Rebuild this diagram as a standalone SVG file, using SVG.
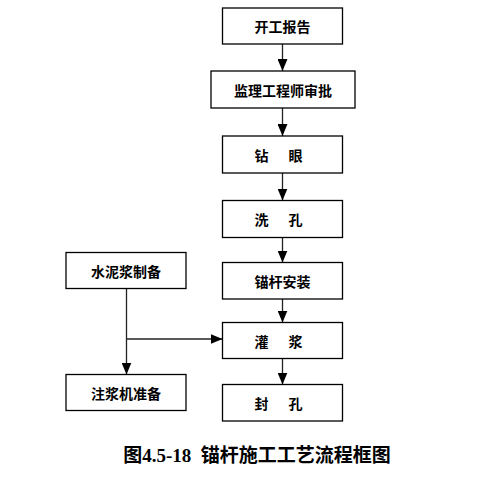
<svg xmlns="http://www.w3.org/2000/svg" width="497" height="480" viewBox="0 0 497 480">
<style>
.box{fill:#fff;stroke:#000;stroke-width:1.3}
.lbl{font-family:"Noto Sans CJK SC","Noto Sans CJK JP",sans-serif;font-size:14px;font-weight:bold;fill:#000;text-anchor:middle;dominant-baseline:central}
.ln{fill:none;stroke:#222;stroke-width:1.3}
.cap{font-family:"Liberation Serif","Noto Sans CJK SC",serif;font-size:19px;font-weight:bold;fill:#000;text-anchor:middle}
</style>
<defs>
<marker id="ah" viewBox="0 0 12 10" refX="12" refY="5" markerWidth="12" markerHeight="10" markerUnits="userSpaceOnUse" orient="auto">
<path d="M0,0 L12,5 L0,10 Z" fill="#000"/>
</marker>
</defs>
<rect width="497" height="480" fill="#fff"/>
<g id="connectors">
<line class="ln" x1="282.5" y1="44" x2="282.5" y2="71" marker-end="url(#ah)"/>
<line class="ln" x1="282.5" y1="108" x2="282.5" y2="136" marker-end="url(#ah)"/>
<line class="ln" x1="282.5" y1="173" x2="282.5" y2="200.5" marker-end="url(#ah)"/>
<line class="ln" x1="282.5" y1="237.5" x2="282.5" y2="262.5" marker-end="url(#ah)"/>
<line class="ln" x1="282.5" y1="299" x2="282.5" y2="322.5" marker-end="url(#ah)"/>
<line class="ln" x1="282.5" y1="358.5" x2="282.5" y2="384.5" marker-end="url(#ah)"/>
<line class="ln" x1="126.5" y1="288.5" x2="126.5" y2="374.5" marker-end="url(#ah)"/>
<line class="ln" x1="126.5" y1="339" x2="222.5" y2="339" marker-end="url(#ah)"/>
</g>
<g id="n1"><rect class="box" x="222.5" y="8" width="120" height="36"/><text class="lbl" x="282.5" y="26">开工报告</text></g>
<g id="n2"><rect class="box" x="211" y="71" width="144" height="37"/><text class="lbl" x="283" y="89.5">监理工程师审批</text></g>
<g id="n3"><rect class="box" x="222.5" y="136" width="120" height="37"/><text class="lbl" x="280" y="154.5" letter-spacing="3">钻　眼</text></g>
<g id="n4"><rect class="box" x="222.5" y="200.5" width="120" height="37"/><text class="lbl" x="280" y="219" letter-spacing="3">洗　孔</text></g>
<g id="n5"><rect class="box" x="222.5" y="262.5" width="120" height="36.5"/><text class="lbl" x="282.5" y="281">锚杆安装</text></g>
<g id="n6"><rect class="box" x="222.5" y="322.5" width="120" height="36"/><text class="lbl" x="280" y="340.5" letter-spacing="3">灌　浆</text></g>
<g id="n7"><rect class="box" x="222.5" y="384.5" width="120" height="36.5"/><text class="lbl" x="280" y="403" letter-spacing="3">封　孔</text></g>
<g id="n8"><rect class="box" x="66" y="252.5" width="120" height="36"/><text class="lbl" x="126" y="270.5">水泥浆制备</text></g>
<g id="n9"><rect class="box" x="66" y="374.5" width="120" height="36"/><text class="lbl" x="126" y="392.5">注浆机准备</text></g>
<text class="cap" x="257" y="462" xml:space="preserve">图4.5-18  锚杆施工工艺流程框图</text>
</svg>
